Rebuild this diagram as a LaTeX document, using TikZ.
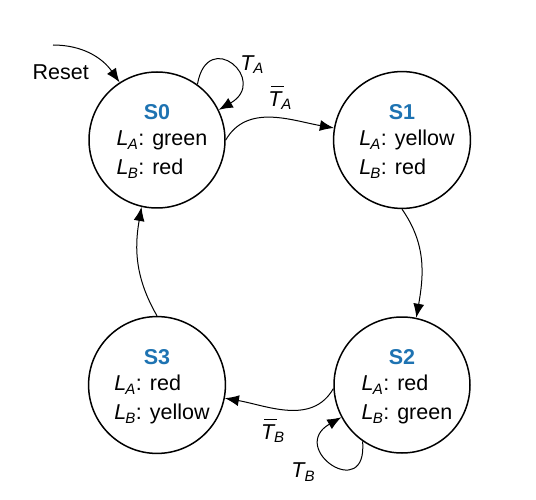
\documentclass[tikz,border=0pt]{standalone}
\usepackage{fontspec}
\setmainfont{Liberation Sans}
\usepackage{tikz}
\usetikzlibrary{shapes,arrows.meta,positioning}
\definecolor{stateblue}{RGB}{30,115,178}
\tikzstyle{state} = [draw, circle, line width=1.5pt, minimum size=136pt,
    inner sep=0pt, align=center, font=\fontsize{21.5}{29}\selectfont]
\tikzstyle{trans} = [line width=1pt, ->]
\tikzstyle{lbl} = [font=\fontsize{21.5}{24}\selectfont, inner sep=2pt]
\tikzstyle{start} = [coordinate]
\newcommand{\lsig}[1]{\textit{L}\kern-0.04em\textsubscript{\textit{#1}}}
\newcommand{\tsig}[1]{\textit{T}\kern-0.06em\textsubscript{\textit{#1}}}
\newcommand{\tbar}[1]{\rlap{\hspace{0.14em}\rule[0.9em]{0.58em}{0.07em}}\textit{T}\kern-0.06em\textsubscript{\textit{#1}}}
\newcommand{\stext}[3]{\rule{0pt}{23pt}{\bfseries\color{stateblue}#1}\\[5pt]
    \hspace*{10pt}\begin{tabular}{@{}l@{}}\lsig{A}: #2\\\lsig{B}: #3\end{tabular}}

\begin{document}
\begin{tikzpicture}[x=1pt, y=-1pt, node distance=245pt,
    >={Latex[length=14pt,width=11pt]}]
    \useasboundingbox (0,0) rectangle (536,500);

    % The four states, S0 first and the rest around it
    \node [state] (S0) at (157,140) {\stext{S0}{green}{red}};
    \node [state, right of=S0] (S1) {\stext{S1}{yellow}{red}};
    \node [state, below of=S1] (S2) {\stext{S2}{red}{green}};
    \node [state, below of=S0] (S3) {\stext{S3}{red}{yellow}};
    \node [start] (reset) at (53,45) {};

    % Transitions
    \draw [trans] (reset) to[out=0, in=125] node[lbl, pos=0.3, below left=14pt and -14pt] {Reset} (S0.123);
    \draw [trans] (S0.54) to[out=80, in=30, looseness=4.5]
        node[lbl, pos=0.62, above right=-3pt and 1pt] {\tsig{A}} (S0.26);
    \draw [trans] (S0.0) to[out=60, in=170] node[lbl, above=5pt, xshift=8pt] {\tbar{A}} (S1.170);
    \draw [trans] (S1.270) to[out=-55, in=80] (S2.78);
    \draw [trans] (S2.183) to[out=240, in=-10] node[lbl, below=6pt, xshift=-14pt] {\tbar{B}} (S3.-11);
    \draw [trans] (S2.235) to[out=-85, in=210, looseness=5]
        node[lbl, pos=0.5, below left=-4pt and 16pt] {\tsig{B}} (S2.208);
    \draw [trans] (S3.90) to[out=120, in=260] (S0.257);

\end{tikzpicture}
\end{document}
